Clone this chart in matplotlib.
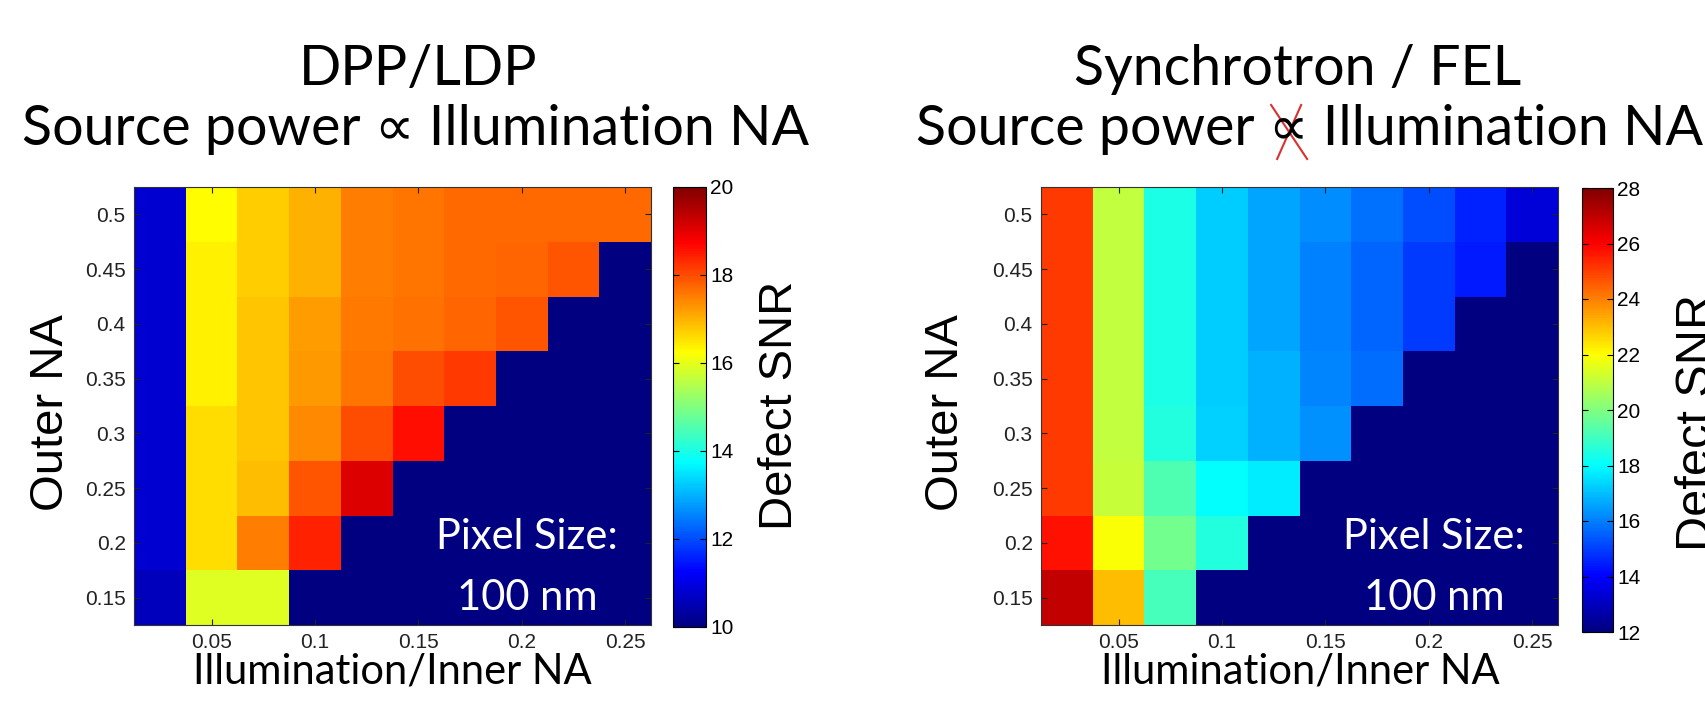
import matplotlib
matplotlib.use("Agg")
import matplotlib.pyplot as plt
import numpy as np
from matplotlib.colors import LinearSegmentedColormap
from matplotlib.lines import Line2D

# grid of illumination (inner) NA and outer NA, cell centres
inner_na = [0.025, 0.05, 0.075, 0.1, 0.125, 0.15, 0.175, 0.2, 0.225, 0.25]
outer_na = [0.15, 0.2, 0.25, 0.3, 0.35, 0.4, 0.45, 0.5]

# defect SNR, rows = outer NA from 0.15 up to 0.5 (invalid cells sit at colour minimum)
snr_dpp = [
    [10.6, 15.9, 15.9, 10.0, 10.0, 10.0, 10.0, 10.0, 10.0, 10.0],
    [10.8, 16.6, 17.5, 18.4, 10.0, 10.0, 10.0, 10.0, 10.0, 10.0],
    [10.8, 16.6, 16.9, 17.9, 19.1, 10.0, 10.0, 10.0, 10.0, 10.0],
    [10.8, 16.6, 16.8, 17.4, 18.0, 18.6, 10.0, 10.0, 10.0, 10.0],
    [10.8, 16.4, 16.8, 17.25, 17.6, 18.0, 18.2, 10.0, 10.0, 10.0],
    [10.8, 16.4, 16.8, 17.2, 17.55, 17.65, 17.75, 17.9, 10.0, 10.0],
    [10.8, 16.4, 16.75, 17.0, 17.5, 17.6, 17.7, 17.75, 17.9, 10.0],
    [10.8, 16.25, 16.75, 17.0, 17.5, 17.6, 17.7, 17.7, 17.7, 17.7],
]
snr_sync = [
    [26.9, 23.0, 19.1, 12.0, 12.0, 12.0, 12.0, 12.0, 12.0, 12.0],
    [25.7, 21.9, 19.8, 18.5, 12.0, 12.0, 12.0, 12.0, 12.0, 12.0],
    [25.1, 21.1, 19.2, 18.0, 17.7, 12.0, 12.0, 12.0, 12.0, 12.0],
    [25.1, 21.0, 18.5, 17.3, 16.8, 16.3, 12.0, 12.0, 12.0, 12.0],
    [25.1, 21.0, 18.4, 17.2, 16.8, 16.1, 15.7, 12.0, 12.0, 12.0],
    [25.1, 21.0, 18.4, 17.2, 16.6, 16.0, 15.6, 14.9, 12.0, 12.0],
    [25.1, 21.0, 18.4, 17.2, 16.6, 16.0, 15.6, 14.9, 14.4, 12.0],
    [25.1, 21.0, 18.4, 17.2, 16.6, 16.2, 15.8, 15.2, 14.5, 13.4],
]

xticks = [0.05, 0.1, 0.15, 0.2, 0.25]
xtick_labels = ["0.05", "0.1", "0.15", "0.2", "0.25"]
yticks = [0.15, 0.2, 0.25, 0.3, 0.35, 0.4, 0.45, 0.5]
ytick_labels = ["0.15", "0.2", "0.25", "0.3", "0.35", "0.4", "0.45", "0.5"]

# MATLAB style jet
mjet = LinearSegmentedColormap("mjet", {
    "red": [(0, 0, 0), (0.375, 0, 0), (0.625, 1, 1), (0.875, 1, 1), (1, 0.5, 0.5)],
    "green": [(0, 0, 0), (0.125, 0, 0), (0.375, 1, 1), (0.625, 1, 1), (0.875, 0, 0), (1, 0, 0)],
    "blue": [(0, 0.5, 0.5), (0.125, 1, 1), (0.375, 1, 1), (0.625, 0, 0), (1, 0, 0)],
}, N=256)

W, H = 1705, 713
fig = plt.figure(figsize=(W / 100, H / 100), dpi=100)

title_font = ["Lato", "DejaVu Sans"]
arial = ["Liberation Sans", "DejaVu Sans"]


def edges(c):
    c = np.asarray(c)
    step = c[1] - c[0]
    return np.append(c - step / 2, c[-1] + step / 2)


def px(x0, y0, w, h):
    # pixel box (top-left origin) -> figure fraction
    return [x0 / W, (H - y0 - h) / H, w / W, h / H]


def panel(ax_box, cb_box, data, vmin, vmax, cticks):
    ax = fig.add_axes(px(*ax_box))
    mesh = ax.pcolormesh(edges(inner_na), edges(outer_na), np.array(data),
                         cmap=mjet, vmin=vmin, vmax=vmax, shading="flat")
    ax.set_xticks(xticks)
    ax.set_xticklabels(xtick_labels)
    ax.set_yticks(yticks)
    ax.set_yticklabels(ytick_labels)
    ax.tick_params(direction="in", top=True, right=True, length=4, width=0.8,
                   labelsize=15, pad=6, colors="#222222")
    for lab in ax.get_xticklabels() + ax.get_yticklabels():
        lab.set_family(arial)
    for s in ax.spines.values():
        s.set_linewidth(0.8)
        s.set_color("#333333")
    cax = fig.add_axes(px(*cb_box))
    cb = fig.colorbar(mesh, cax=cax, ticks=cticks)
    cax.tick_params(direction="in", left=True, right=True, length=4, width=0.8,
                    labelsize=15, pad=3)
    for lab in cax.get_yticklabels():
        lab.set_family(arial)
    cb.outline.set_linewidth(0.8)
    ax.text(0.76, 0.1735, "Pixel Size:", transform=ax.transAxes, color="white",
            ha="center", va="baseline", fontsize=30, family=title_font)
    ax.text(0.76, 0.035, "100 nm", transform=ax.transAxes, color="white",
            ha="center", va="baseline", fontsize=30, family=title_font)
    return ax


ax1 = panel((134, 187, 517, 438), (673, 187, 33, 440), snr_dpp, 10, 20,
            [10, 12, 14, 16, 18, 20])
ax2 = panel((1041, 187, 517, 438), (1582, 188, 31, 444), snr_sync, 12, 28,
            [12, 14, 16, 18, 20, 22, 24, 26, 28])

# axis labels
for cx, ylx in [(392, 51), (1300, 946)]:
    fig.text(cx / W, 30 / H, "Illumination/Inner NA", ha="center", va="baseline",
             fontsize=30, family=title_font)
    fig.text(ylx / W, (H - 413) / H, "Outer NA", ha="center", va="center",
             rotation=90, fontsize=34, family=arial)
fig.text(780 / W, (H - 405) / H, "Defect SNR", ha="center", va="center",
         rotation=90, fontsize=34, family=arial)
fig.text(1697 / W, (H - 422) / H, "Defect SNR", ha="center", va="center",
         rotation=90, fontsize=35, family=arial)

# titles
fig.text(418 / W, (H - 85) / H, "DPP/LDP", ha="center", va="baseline",
         fontsize=40, family=title_font)
fig.text(416 / W, (H - 145) / H, "Source power \u221d Illumination NA", ha="center",
         va="baseline", fontsize=40, family=title_font)
fig.text(1298 / W, (H - 85) / H, "Synchrotron / FEL", ha="center", va="baseline",
         fontsize=40, family=title_font)
t2 = fig.text(1310 / W, (H - 145) / H, "Source power \u221d Illumination NA",
              ha="center", va="baseline", fontsize=40, family=title_font)

# red cross over the proportional sign of the right title
fig.canvas.draw()
r = fig.canvas.get_renderer()
bb = t2.get_window_extent(r)
tmp = fig.text(0, 0, "Source power \u221d", fontsize=40, family=title_font)
w_pre = tmp.get_window_extent(r).width
tmp.set_text("\u221d")
w_sym = tmp.get_window_extent(r).width
tmp.remove()
xc = bb.x0 + w_pre - w_sym / 2
yb = (H - 145)
x0, x1 = (xc - 18) / W, (xc + 18) / W
y0, y1 = (yb - 14) / H, (yb + 40) / H
fig.add_artist(Line2D([x0, x1], [y1, y0], transform=fig.transFigure,
                      color="#d9322e", lw=1.5))
fig.add_artist(Line2D([x0 + 6 / W, x1 - 6 / W], [y0, y1], transform=fig.transFigure,
                      color="#d9322e", lw=1.5))

fig.savefig("out.png", dpi=100)
